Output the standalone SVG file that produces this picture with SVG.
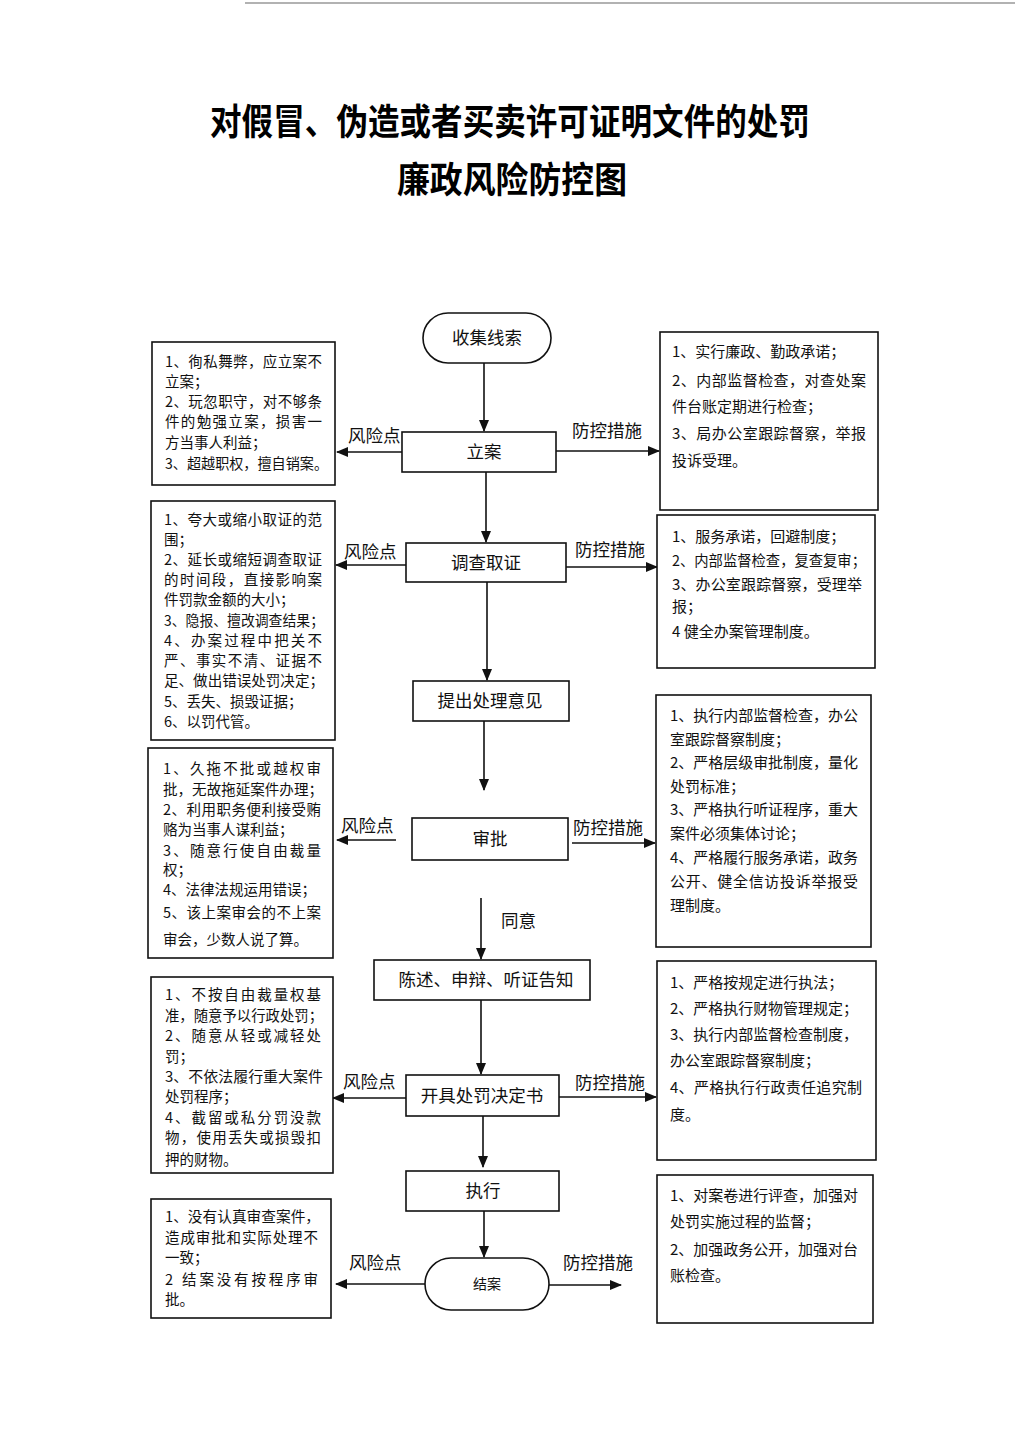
<svg xmlns="http://www.w3.org/2000/svg" width="1024" height="1448" viewBox="0 0 1024 1448">
<defs>
<marker id="ah" markerUnits="userSpaceOnUse" markerWidth="12" markerHeight="10" refX="11" refY="5" orient="auto">
<path d="M0,0 L12,5 L0,10 Z" fill="#111"/>
</marker>
<style>
.bg{fill:#fff}
.box{fill:#fff;stroke:#111;stroke-width:1.6}
.ln{fill:none;stroke:#111;stroke-width:1.6}
.t{font-family:"Noto Sans CJK SC","Noto Sans",sans-serif;fill:#111}
.tl{font-size:14.5px}
.tr{font-size:15px}
.nd{font-size:17.5px;text-anchor:middle}
.lb{font-size:17.5px}
.title{font-family:"Noto Sans CJK SC","Noto Sans",sans-serif;font-weight:bold;fill:#000;font-size:36px;text-anchor:middle}
</style>
</defs>
<rect class="bg" x="0" y="0" width="1024" height="1448"/>
<line x1="245" y1="3" x2="1015" y2="3" stroke="#999" stroke-width="1.5"/>

<g id="title">
<text class="title" x="510" y="135" textLength="600" lengthAdjust="spacingAndGlyphs">对假冒、伪造或者买卖许可证明文件的处罚</text>
<text class="title" x="512" y="193" textLength="230" lengthAdjust="spacingAndGlyphs">廉政风险防控图</text>
</g>

<g id="connectors">
<line class="ln" x1="484" y1="363" x2="484" y2="431" marker-end="url(#ah)"/>
<line class="ln" x1="486" y1="472" x2="486" y2="542" marker-end="url(#ah)"/>
<line class="ln" x1="487" y1="582" x2="487" y2="680" marker-end="url(#ah)"/>
<line class="ln" x1="484" y1="721" x2="484" y2="790" marker-end="url(#ah)"/>
<line class="ln" x1="481" y1="898" x2="481" y2="959" marker-end="url(#ah)"/>
<line class="ln" x1="481" y1="1000" x2="481" y2="1074" marker-end="url(#ah)"/>
<line class="ln" x1="483" y1="1116" x2="483" y2="1167" marker-end="url(#ah)"/>
<line class="ln" x1="484" y1="1211" x2="484" y2="1257" marker-end="url(#ah)"/>

<line class="ln" x1="402" y1="452" x2="337" y2="452" marker-end="url(#ah)"/>
<line class="ln" x1="556" y1="451" x2="659" y2="451" marker-end="url(#ah)"/>
<line class="ln" x1="406" y1="565" x2="336" y2="565" marker-end="url(#ah)"/>
<line class="ln" x1="566" y1="567" x2="657" y2="567" marker-end="url(#ah)"/>
<line class="ln" x1="396" y1="840" x2="337" y2="840" marker-end="url(#ah)"/>
<line class="ln" x1="572" y1="843" x2="655" y2="843" marker-end="url(#ah)"/>
<line class="ln" x1="406" y1="1098" x2="333" y2="1098" marker-end="url(#ah)"/>
<line class="ln" x1="559" y1="1097" x2="656" y2="1097" marker-end="url(#ah)"/>
<line class="ln" x1="425" y1="1284" x2="336" y2="1284" marker-end="url(#ah)"/>
<line class="ln" x1="549" y1="1285" x2="621" y2="1285" marker-end="url(#ah)"/>

<text class="t lb" x="348" y="442">风险点</text>
<text class="t lb" x="572" y="437">防控措施</text>
<text class="t lb" x="344" y="558">风险点</text>
<text class="t lb" x="575" y="556">防控措施</text>
<text class="t lb" x="341" y="832">风险点</text>
<text class="t lb" x="573" y="834">防控措施</text>
<text class="t lb" x="343" y="1088">风险点</text>
<text class="t lb" x="575" y="1089">防控措施</text>
<text class="t lb" x="349" y="1269">风险点</text>
<text class="t lb" x="563" y="1269">防控措施</text>
<text class="t lb" x="501" y="927">同意</text>
</g>

<g id="n-collect">
<rect class="box" x="423" y="313" width="128" height="50" rx="25" ry="25"/>
<text class="t nd" x="487" y="344">收集线索</text>
</g>
<g id="n-lian">
<rect class="box" x="402" y="432" width="154" height="40"/>
<text class="t nd" x="484" y="458">立案</text>
</g>
<g id="n-diaocha">
<rect class="box" x="406" y="543" width="160" height="39"/>
<text class="t nd" x="486" y="569">调查取证</text>
</g>
<g id="n-tichu">
<rect class="box" x="413" y="681" width="156" height="40"/>
<text class="t nd" x="490" y="707">提出处理意见</text>
</g>
<g id="n-shenpi">
<rect class="box" x="412" y="818" width="156" height="42"/>
<text class="t nd" x="490" y="845">审批</text>
</g>
<g id="n-chenshu">
<rect class="box" x="374" y="960" width="216" height="40"/>
<text class="t nd" x="486" y="986">陈述、申辩、听证告知</text>
</g>
<g id="n-kaiju">
<rect class="box" x="406" y="1075" width="153" height="41"/>
<text class="t nd" x="482" y="1102">开具处罚决定书</text>
</g>
<g id="n-zhixing">
<rect class="box" x="406" y="1171" width="153" height="40"/>
<text class="t nd" x="483" y="1197">执行</text>
</g>
<g id="n-jiean">
<rect class="box" x="425" y="1258" width="124" height="52" rx="26" ry="26"/>
<text class="t" x="487" y="1289" font-size="14" text-anchor="middle">结案</text>
</g>

<g id="risk-1">
<rect class="box" x="152" y="342" width="183" height="143"/>
<text class="t tl" x="165" y="367" textLength="157" lengthAdjust="spacing">1、徇私舞弊，应立案不</text>
<text class="t tl" x="165" y="387">立案；</text>
<text class="t tl" x="165" y="407" textLength="157" lengthAdjust="spacing">2、玩忽职守，对不够条</text>
<text class="t tl" x="165" y="427" textLength="157" lengthAdjust="spacing">件的勉强立案，损害一</text>
<text class="t tl" x="165" y="448">方当事人利益；</text>
<text class="t tl" x="165" y="469" textLength="163" lengthAdjust="spacingAndGlyphs">3、超越职权，擅自销案。</text>
</g>
<g id="risk-2">
<rect class="box" x="151" y="501" width="184" height="239"/>
<text class="t tl" x="164" y="525" textLength="158" lengthAdjust="spacing">1、夸大或缩小取证的范</text>
<text class="t tl" x="164" y="545">围；</text>
<text class="t tl" x="164" y="565" textLength="158" lengthAdjust="spacing">2、延长或缩短调查取证</text>
<text class="t tl" x="164" y="585" textLength="158" lengthAdjust="spacing">的时间段，直接影响案</text>
<text class="t tl" x="164" y="605">件罚款金额的大小；</text>
<text class="t tl" x="164" y="626" textLength="160" lengthAdjust="spacingAndGlyphs">3、隐报、擅改调查结果；</text>
<text class="t tl" x="164" y="646" textLength="158" lengthAdjust="spacing">4、办案过程中把关不</text>
<text class="t tl" x="164" y="666" textLength="158" lengthAdjust="spacing">严、事实不清、证据不</text>
<text class="t tl" x="164" y="686" textLength="160" lengthAdjust="spacingAndGlyphs">足、做出错误处罚决定；</text>
<text class="t tl" x="164" y="707">5、丢失、损毁证据；</text>
<text class="t tl" x="164" y="727">6、以罚代管。</text>
</g>
<g id="risk-3">
<rect class="box" x="148" y="748" width="185" height="210"/>
<text class="t tl" x="163" y="774" textLength="158" lengthAdjust="spacing">1、久拖不批或越权审</text>
<text class="t tl" x="163" y="795" textLength="160" lengthAdjust="spacingAndGlyphs">批，无故拖延案件办理；</text>
<text class="t tl" x="163" y="815" textLength="158" lengthAdjust="spacing">2、利用职务便利接受贿</text>
<text class="t tl" x="163" y="835">赂为当事人谋利益；</text>
<text class="t tl" x="163" y="856" textLength="158" lengthAdjust="spacing">3、随意行使自由裁量</text>
<text class="t tl" x="163" y="875">权；</text>
<text class="t tl" x="163" y="895">4、法律法规运用错误；</text>
<text class="t tl" x="163" y="918" textLength="158" lengthAdjust="spacing">5、该上案审会的不上案</text>
<text class="t tl" x="163" y="945">审会，少数人说了算。</text>
</g>
<g id="risk-4">
<rect class="box" x="151" y="977" width="182" height="196"/>
<text class="t tl" x="165" y="1000" textLength="156" lengthAdjust="spacing">1、不按自由裁量权基</text>
<text class="t tl" x="165" y="1021" textLength="158" lengthAdjust="spacingAndGlyphs">准，随意予以行政处罚；</text>
<text class="t tl" x="165" y="1041" textLength="156" lengthAdjust="spacing">2、随意从轻或减轻处</text>
<text class="t tl" x="165" y="1062">罚；</text>
<text class="t tl" x="165" y="1082" textLength="158" lengthAdjust="spacingAndGlyphs">3、不依法履行重大案件</text>
<text class="t tl" x="165" y="1102">处罚程序；</text>
<text class="t tl" x="165" y="1123" textLength="156" lengthAdjust="spacing">4、截留或私分罚没款</text>
<text class="t tl" x="165" y="1143" textLength="156" lengthAdjust="spacing">物，使用丢失或损毁扣</text>
<text class="t tl" x="165" y="1165">押的财物。</text>
</g>
<g id="risk-5">
<rect class="box" x="151" y="1199" width="180" height="119"/>
<text class="t tl" x="165" y="1222" textLength="155" lengthAdjust="spacingAndGlyphs">1、没有认真审查案件，</text>
<text class="t tl" x="165" y="1243" textLength="153" lengthAdjust="spacing">造成审批和实际处理不</text>
<text class="t tl" x="165" y="1263">一致；</text>
<text class="t tl" x="165" y="1285" textLength="153" lengthAdjust="spacing">2 结案没有按程序审</text>
<text class="t tl" x="165" y="1305">批。</text>
</g>

<g id="ctrl-1">
<rect class="box" x="660" y="332" width="218" height="178"/>
<text class="t tr" x="672" y="357">1、实行廉政、勤政承诺；</text>
<text class="t tr" x="672" y="386" textLength="194" lengthAdjust="spacing">2、内部监督检查，对查处案</text>
<text class="t tr" x="672" y="412">件台账定期进行检查；</text>
<text class="t tr" x="672" y="439" textLength="194" lengthAdjust="spacing">3、局办公室跟踪督察，举报</text>
<text class="t tr" x="672" y="466">投诉受理。</text>
</g>
<g id="ctrl-2">
<rect class="box" x="657" y="515" width="218" height="153"/>
<text class="t tr" x="672" y="542">1、服务承诺，回避制度；</text>
<text class="t tr" x="672" y="566" textLength="194" lengthAdjust="spacingAndGlyphs">2、内部监督检查，复查复审；</text>
<text class="t tr" x="672" y="590" textLength="190" lengthAdjust="spacing">3、办公室跟踪督察，受理举</text>
<text class="t tr" x="672" y="612">报；</text>
<text class="t tr" x="672" y="637">4 健全办案管理制度。</text>
</g>
<g id="ctrl-3">
<rect class="box" x="656" y="695" width="215" height="252"/>
<text class="t tr" x="670" y="721" textLength="188" lengthAdjust="spacing">1、执行内部监督检查，办公</text>
<text class="t tr" x="670" y="745">室跟踪督察制度；</text>
<text class="t tr" x="670" y="768" textLength="188" lengthAdjust="spacing">2、严格层级审批制度，量化</text>
<text class="t tr" x="670" y="792">处罚标准；</text>
<text class="t tr" x="670" y="815" textLength="188" lengthAdjust="spacing">3、严格执行听证程序，重大</text>
<text class="t tr" x="670" y="839">案件必须集体讨论；</text>
<text class="t tr" x="670" y="863" textLength="188" lengthAdjust="spacing">4、严格履行服务承诺，政务</text>
<text class="t tr" x="670" y="887" textLength="188" lengthAdjust="spacing">公开、健全信访投诉举报受</text>
<text class="t tr" x="670" y="911">理制度。</text>
</g>
<g id="ctrl-4">
<rect class="box" x="657" y="961" width="219" height="199"/>
<text class="t tr" x="670" y="988">1、严格按规定进行执法；</text>
<text class="t tr" x="670" y="1014" textLength="188" lengthAdjust="spacing">2、严格执行财物管理规定；</text>
<text class="t tr" x="670" y="1040" textLength="188" lengthAdjust="spacing">3、执行内部监督检查制度，</text>
<text class="t tr" x="670" y="1066">办公室跟踪督察制度；</text>
<text class="t tr" x="670" y="1093" textLength="192" lengthAdjust="spacing">4、严格执行行政责任追究制</text>
<text class="t tr" x="670" y="1120">度。</text>
</g>
<g id="ctrl-5">
<rect class="box" x="657" y="1175" width="216" height="148"/>
<text class="t tr" x="670" y="1201" textLength="188" lengthAdjust="spacing">1、对案卷进行评查，加强对</text>
<text class="t tr" x="670" y="1227">处罚实施过程的监督；</text>
<text class="t tr" x="670" y="1255" textLength="188" lengthAdjust="spacing">2、加强政务公开，加强对台</text>
<text class="t tr" x="670" y="1281">账检查。</text>
</g>
</svg>
